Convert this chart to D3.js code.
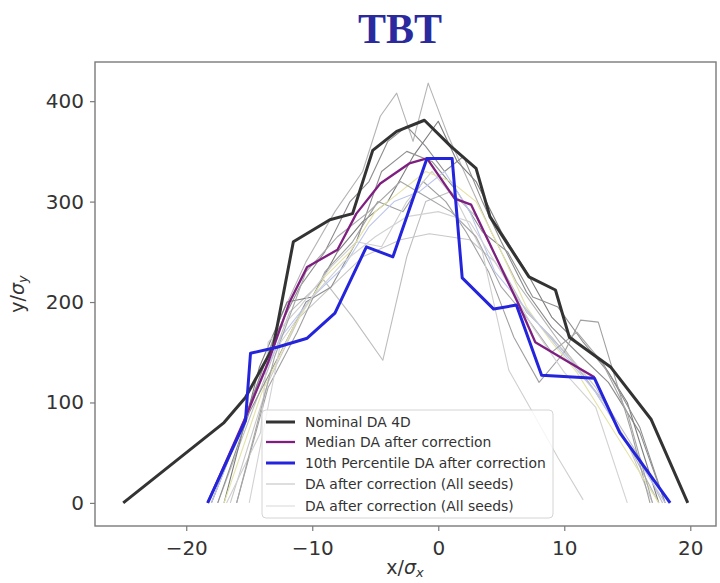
<!DOCTYPE html>
<html>
<head>
<meta charset="utf-8">
<script src="https://cdn.jsdelivr.net/npm/d3@7"></script>
<style>
  html, body { margin: 0; padding: 0; background: #fff; }
  svg { display: block; }
</style>
</head>
<body>
<svg id="chart" width="720" height="583"></svg>
<script>
// ---------------- data ----------------
const title = "TBT";
const xTicks = [-20, -10, 0, 10, 20];
const yTicks = [0, 100, 200, 300, 400];

const nominalX = [-25, -17, -15.3, -13.1, -11.5, -8.6, -6.8, -5.2, -3.3, -1.1, 1.0, 3.0, 4.1, 7.2, 9.3, 10.4, 13.7, 16.9, 19.8];
const nominalY = [0, 80, 105, 155, 260, 282, 288, 351, 370, 381, 355, 333, 285, 225, 212, 165, 135, 83, 0];

const medianX = [-18.3, -15.3, -13.5, -11.8, -10.4, -8.0, -6.5, -4.6, -2.3, -0.9, 1.3, 2.6, 6.4, 7.7, 10.1, 12.4];
const medianY = [0, 85, 140, 200, 235, 252, 288, 318, 338, 343, 303, 297, 197, 160, 142, 125];

const p10X = [-18.3, -15.3, -14.9, -12.8, -10.4, -8.2, -5.7, -3.6, -0.9, 1.1, 1.9, 4.4, 6.2, 8.2, 12.4, 14.4, 18.4];
const p10Y = [0, 82, 149, 155, 164, 189, 255, 245, 343, 343, 224, 193, 197, 127, 124, 70, 0];

// individual seeds (DA after correction)
const seedX = [
  [-18, -15, -12.5, -10.5, -8.2, -6, -4.6, -3.3, -2, -0.8, 0.8, 2.4, 4.2, 6.2, 8.2, 10.2, 12.5, 15, 17.5],
  [-18, -15.5, -13, -11, -9, -7, -5.5, -4, -2.5, -1, 0.5, 2, 3.5, 5, 7, 9, 11, 13.5, 16, 18],
  [-17.5, -14.5, -11.8, -9.1, -6.8, -4.4, -2.5, -1, 1, 3, 5, 7, 9, 11, 13.5, 16, 17.8],
  [-16.5, -13.5, -11, -8.5, -6, -3, -0.7, 2.5, 4.5, 6.5, 8.5, 10.5, 12.5, 15, 17],
  [-17, -14.2, -12, -10, -8, -6, -4, -2, 0, 1.5, 3, 5, 7, 9, 11, 13, 15, 17.5],
  [-16, -13.5, -11.2, -9, -6.8, -4.8, -2.8, -1.2, 0.6, 2.2, 4, 6, 8, 10, 11.3, 12.7, 15.3, 16.8],
  [-16.8, -14.1, -13.5, -11, -8.5, -6.5, -4.5, -2.5, -0.5, 1.5, 3.5, 5.6, 7.5, 9.5, 11.5],
  [-17.5, -15, -12.5, -10.5, -8.5, -6.5, -4.5, -2.5, -0.5, 1.5, 3.5, 5.5, 7.5, 9.5, 11.5, 13.5, 16, 18],
  [-17, -14, -11.5, -9, -7, -5, -3, -1, 1, 3, 5, 7, 9, 11, 13, 15.5, 17.5],
  [-18, -15, -12.5, -10, -7.5, -5.5, -3.5, -1.5, 0.5, 2.5, 4.5, 6.5, 8.5, 10.5, 12.5, 15, 18],
  [-16, -13, -10.5, -8, -5.5, -3, -1, 1, 3, 5, 7, 9, 11, 13, 15, 17],
  [-15, -12.5, -10, -7.5, -5, -2.5, 0, 2.5, 5, 7.5, 10, 12.5, 15]
];
const seedY = [
  [0, 95, 185, 240, 290, 330, 385, 408, 360, 418, 365, 320, 270, 220, 185, 150, 110, 60, 0],
  [0, 80, 165, 215, 250, 300, 320, 360, 375, 355, 330, 345, 300, 260, 210, 175, 150, 120, 70, 0],
  [0, 100, 190, 222, 185, 142, 245, 300, 310, 285, 235, 190, 165, 135, 95, 45, 0],
  [0, 120, 185, 215, 245, 262, 268, 262, 240, 200, 170, 145, 115, 60, 0],
  [0, 135, 200, 205, 250, 280, 300, 345, 380, 340, 320, 270, 230, 185, 160, 140, 100, 0],
  [0, 115, 170, 230, 260, 300, 290, 320, 300, 270, 230, 165, 120, 150, 182, 180, 72, 0],
  [0, 70, 160, 195, 235, 260, 255, 300, 330, 300, 250, 132, 90, 45, 3],
  [0, 90, 150, 200, 215, 260, 330, 350, 340, 310, 270, 250, 205, 195, 160, 130, 75, 0],
  [0, 110, 175, 225, 250, 290, 310, 330, 320, 300, 250, 195, 160, 130, 90, 40, 0],
  [0, 95, 165, 205, 235, 275, 300, 310, 330, 290, 230, 200, 170, 140, 110, 60, 0],
  [0, 145, 230, 265, 290, 320, 305, 290, 265, 215, 185, 150, 170, 140, 90, 0],
  [0, 160, 205, 240, 265, 285, 290, 280, 230, 175, 130, 95, 0]
];
const seedColors = ["#b4b4b4", "#8c8c8c", "#bdbdbd", "#c8c8c8", "#7d7d7d", "#a0a0a0",
                    "#cfcfcf", "#8f8f8f", "#e4e3a6", "#bcc6ee", "#a6a6a6", "#d2d2d2"];

const legendLabels = ["Nominal DA 4D", "Median DA after correction", "10th Percentile DA after correction",
                      "DA after correction (All seeds)", "DA after correction (All seeds)"];

// ---------------- layout ----------------
const svg = d3.select("#chart");
const L = 95, R = 716, T = 62, B = 526;
const x = d3.scaleLinear().domain([-27.24, 22.04]).range([L, R]);
const y = d3.scaleLinear().domain([-23, 439]).range([B, T]);

svg.append("text")
  .attr("x", 400).attr("y", 43)
  .attr("text-anchor", "middle")
  .attr("font-family", "'Liberation Serif', 'Times New Roman', serif")
  .attr("font-weight", "bold")
  .attr("font-size", 42)
  .attr("fill", "#2a2a9e")
  .text(title);

// clip
svg.append("defs").append("clipPath").attr("id", "clip")
  .append("rect").attr("x", L).attr("y", T).attr("width", R - L).attr("height", B - T);

const plot = svg.append("g").attr("clip-path", "url(#clip)");
const line = d3.line().x(d => x(d[0])).y(d => y(d[1]));
const zip = (xs, ys) => xs.map((v, i) => [v, ys[i]]);

seedX.forEach((xs, i) => {
  plot.append("path")
    .attr("d", line(zip(xs, seedY[i])))
    .attr("fill", "none")
    .attr("stroke", seedColors[i])
    .attr("stroke-width", 1.1)
    .attr("stroke-linejoin", "round");
});

plot.append("path").attr("d", line(zip(nominalX, nominalY)))
  .attr("fill", "none").attr("stroke", "#333").attr("stroke-width", 3).attr("stroke-linejoin", "round");
plot.append("path").attr("d", line(zip(medianX, medianY)))
  .attr("fill", "none").attr("stroke", "#7e1f80").attr("stroke-width", 2.3).attr("stroke-linejoin", "round");
plot.append("path").attr("d", line(zip(p10X, p10Y)))
  .attr("fill", "none").attr("stroke", "#2424dc").attr("stroke-width", 3).attr("stroke-linejoin", "round");

// frame
svg.append("rect").attr("x", L).attr("y", T).attr("width", R - L).attr("height", B - T)
  .attr("fill", "none").attr("stroke", "#7a7a7a").attr("stroke-width", 1.4);

// axes
const fontAxis = "'DejaVu Sans', sans-serif";
const xAxis = svg.append("g").attr("transform", `translate(0,${B})`)
  .call(d3.axisBottom(x).tickValues(xTicks).tickSize(5).tickPadding(5)
        .tickFormat(d => d < 0 ? "\u2212" + Math.abs(d) : String(d)));
const yAxis = svg.append("g").attr("transform", `translate(${L},0)`)
  .call(d3.axisLeft(y).tickValues(yTicks).tickSize(5).tickPadding(6));
[xAxis, yAxis].forEach(g => {
  g.select(".domain").remove();
  g.selectAll(".tick line").attr("stroke", "#7a7a7a").attr("stroke-width", 1.2);
  g.selectAll(".tick text").attr("font-family", fontAxis).attr("font-size", 20).attr("fill", "#333");
});
xAxis.selectAll(".tick text").attr("dy", "0.95em");

// axis labels
const xl = svg.append("text").attr("x", 405).attr("y", 574).attr("text-anchor", "middle")
  .attr("font-family", fontAxis).attr("font-size", 19).attr("fill", "#333");
xl.append("tspan").text("x/");
xl.append("tspan").attr("font-style", "italic").text("σ");
xl.append("tspan").attr("font-size", 13).attr("font-style", "italic").attr("dy", 3).text("x");

const yl = svg.append("text").attr("transform", `translate(24,${(T + B) / 2}) rotate(-90)`)
  .attr("text-anchor", "middle")
  .attr("font-family", fontAxis).attr("font-size", 19).attr("fill", "#333");
yl.append("tspan").text("y/");
yl.append("tspan").attr("font-style", "italic").text("σ");
yl.append("tspan").attr("font-size", 13).attr("font-style", "italic").attr("dy", 3).text("y");

// legend
const lg = svg.append("g");
lg.append("rect").attr("x", 262).attr("y", 410).attr("width", 291).attr("height", 108)
  .attr("rx", 4).attr("fill", "rgba(255,255,255,0.8)").attr("stroke", "#d4d4d4").attr("stroke-width", 1);
const lStyles = [
  { c: "#333", w: 3 }, { c: "#7e1f80", w: 2.3 }, { c: "#2424dc", w: 3 },
  { c: "#c4c4c4", w: 1.1 }, { c: "#dadada", w: 1.1 }
];
const rowY = [422, 442, 463, 484, 506];
legendLabels.forEach((t, i) => {
  lg.append("line").attr("x1", 266).attr("x2", 295).attr("y1", rowY[i]).attr("y2", rowY[i])
    .attr("stroke", lStyles[i].c).attr("stroke-width", lStyles[i].w);
  lg.append("text").attr("x", 305).attr("y", rowY[i]).attr("dy", "0.35em")
    .attr("font-family", fontAxis).attr("font-size", 13.9).attr("fill", "#333").text(t);
});
</script>
</body>
</html>
